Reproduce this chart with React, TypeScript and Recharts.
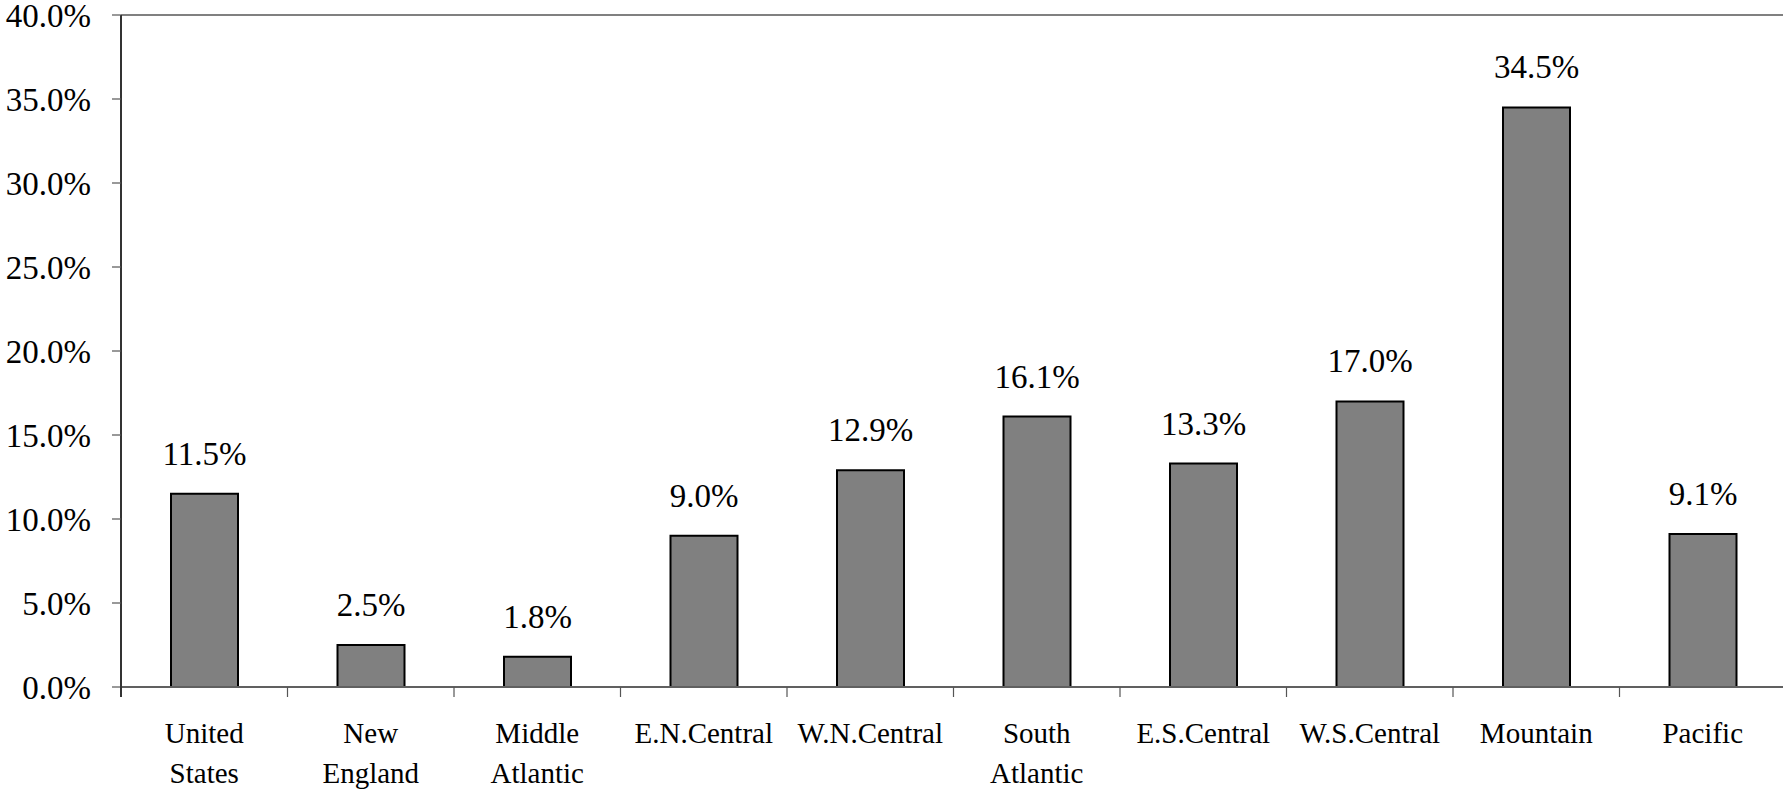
import { BarChart, Bar, XAxis, YAxis, ReferenceLine, LabelList } from 'recharts';

// Regional change, share by census division
const regions = [
  'United States',
  'New England',
  'Middle Atlantic',
  'E.N.Central',
  'W.N.Central',
  'South Atlantic',
  'E.S.Central',
  'W.S.Central',
  'Mountain',
  'Pacific',
];

const regionLines = [
  ['United', 'States'],
  ['New', 'England'],
  ['Middle', 'Atlantic'],
  ['E.N.Central'],
  ['W.N.Central'],
  ['South', 'Atlantic'],
  ['E.S.Central'],
  ['W.S.Central'],
  ['Mountain'],
  ['Pacific'],
];

const changePct = [11.5, 2.5, 1.8, 9.0, 12.9, 16.1, 13.3, 17.0, 34.5, 9.1];

const yTicks = [0, 5, 10, 15, 20, 25, 30, 35, 40];

const data = regions.map((name, i) => ({ name, value: changePct[i], lines: regionLines[i] }));

const CHART_W = 1786;
const CHART_H = 793;
const Y_AXIS_W = 121;
const BAND = (CHART_W - Y_AXIS_W) / regions.length;
const FONT = 'Liberation Serif, Tinos, Times New Roman, DejaVu Serif, serif';

const fmtPct = (v: number) => `${v.toFixed(1)}%`;

function CategoryTick(props: any) {
  const { x, y, payload, index } = props;
  const lines = regionLines[index] ?? [String(payload.value)];
  const half = BAND / 2;
  return (
    <g>
      {index === 0 && (
        <line x1={x - half} x2={x - half} y1={y - 1} y2={y + 10} stroke="#333" strokeWidth={2} />
      )}
      <line x1={x + half} x2={x + half} y1={y} y2={y + 10} stroke="#555" strokeWidth={1.2} />
      {lines.map((ln: string, i: number) => (
        <text
          key={i}
          x={x}
          y={y + 56 + i * 40}
          textAnchor="middle"
          style={{ fontFamily: FONT, fontSize: 29 }}
          fill="#000"
        >
          {ln}
        </text>
      ))}
    </g>
  );
}

function ValueLabel(props: any) {
  const { x, y, width, value } = props;
  return (
    <text
      x={x + width / 2}
      y={y - 29}
      textAnchor="middle"
      style={{ fontFamily: FONT, fontSize: 33 }}
      fill="#000"
    >
      {fmtPct(value)}
    </text>
  );
}

export default function App() {
  return (
    <div
      style={{
        position: 'absolute',
        left: 0,
        top: 0,
        width: 1783,
        height: 793,
        overflow: 'hidden',
        background: '#fff',
        fontFamily: FONT,
      }}
    >
      <BarChart
        width={CHART_W}
        height={CHART_H}
        data={data}
        margin={{ top: 15, right: 0, left: 0, bottom: 0 }}
        style={{ fontFamily: FONT }}
      >
        <ReferenceLine y={40} stroke="#808080" strokeWidth={2} />
        <XAxis
          dataKey="name"
          height={CHART_H - 15 - 672}
          interval={0}
          tickSize={0}
          tickMargin={0}
          tickLine={false}
          axisLine={{ stroke: '#606060', strokeWidth: 2 }}
          tick={<CategoryTick />}
        />
        <YAxis
          width={Y_AXIS_W}
          domain={[0, 40]}
          ticks={yTicks}
          interval={0}
          tickFormatter={fmtPct}
          tickSize={9}
          tickMargin={21}
          tickLine={{ stroke: '#555', strokeWidth: 1.2 }}
          axisLine={{ stroke: '#333', strokeWidth: 2 }}
          tick={{ style: { fontFamily: FONT }, fontSize: 33, fill: '#000' }}
        />
        <Bar
          dataKey="value"
          fill="#808080"
          stroke="#000"
          strokeWidth={2}
          barSize={67}
          isAnimationActive={false}
        >
          <LabelList dataKey="value" content={<ValueLabel />} />
        </Bar>
      </BarChart>
    </div>
  );
}
